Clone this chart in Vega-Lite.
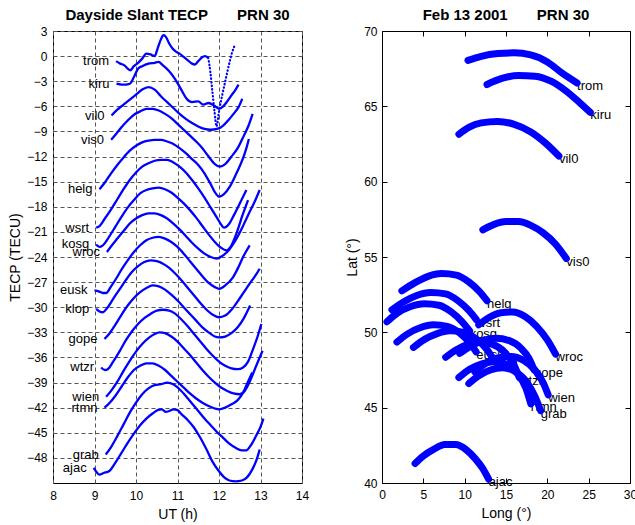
{
"$schema": "https://vega.github.io/schema/vega-lite/v6.json",
"padding": {"left": 8, "top": 7, "right": 5, "bottom": 5},
"spacing": 35,
"config": {
 "font": "Liberation Sans",
 "view": {"stroke": "#000", "strokeWidth": 1},
 "axis": {"labelFont": "Liberation Sans", "labelFontSize": 12, "labelColor": "#000", "titleFont": "Liberation Sans", "titleFontSize": 14, "titleFontWeight": "normal", "titleColor": "#000", "domain": false, "tickColor": "#000", "gridColor": "#555", "gridDash": [4, 3], "gridOpacity": 1, "labelFlush": false, "labelOverlap": false},
 "title": {"font": "Liberation Sans", "fontSize": 15, "fontWeight": "bold", "color": "#000", "offset": 2}
},
"datasets": {
 "tec": [
  {"st":"trom","ut":9.52,"tec":-0.6},{"st":"trom","ut":9.62,"tec":-0.9},{"st":"trom","ut":9.72,"tec":-1.1},{"st":"trom","ut":9.8,"tec":-1.5},{"st":"trom","ut":9.86,"tec":-1.7},{"st":"trom","ut":9.95,"tec":-1.2},{"st":"trom","ut":10.05,"tec":-0.8},{"st":"trom","ut":10.15,"tec":-0.3},{"st":"trom","ut":10.25,"tec":0.3},{"st":"trom","ut":10.35,"tec":0.2},{"st":"trom","ut":10.45,"tec":0.0},{"st":"trom","ut":10.52,"tec":0.9},{"st":"trom","ut":10.6,"tec":2.0},{"st":"trom","ut":10.66,"tec":2.5},{"st":"trom","ut":10.72,"tec":2.3},{"st":"trom","ut":10.8,"tec":1.5},{"st":"trom","ut":10.88,"tec":0.9},{"st":"trom","ut":10.97,"tec":0.5},{"st":"trom","ut":11.05,"tec":0.3},{"st":"trom","ut":11.15,"tec":-0.1},{"st":"trom","ut":11.25,"tec":-0.5},{"st":"trom","ut":11.35,"tec":-0.9},{"st":"trom","ut":11.42,"tec":-1.0},{"st":"trom","ut":11.5,"tec":-0.6},{"st":"trom","ut":11.58,"tec":-0.2},{"st":"trom","ut":11.66,"tec":0.0},{"st":"trom","ut":11.74,"tec":-0.2},
  {"st":"kiru","ut":9.53,"tec":-3.3},{"st":"kiru","ut":9.65,"tec":-3.4},{"st":"kiru","ut":9.75,"tec":-3.4},{"st":"kiru","ut":9.85,"tec":-3.3},{"st":"kiru","ut":9.95,"tec":-2.5},{"st":"kiru","ut":10.05,"tec":-1.5},{"st":"kiru","ut":10.15,"tec":-1.2},{"st":"kiru","ut":10.3,"tec":-0.9},{"st":"kiru","ut":10.45,"tec":-0.8},{"st":"kiru","ut":10.54,"tec":-0.7},{"st":"kiru","ut":10.65,"tec":-1.1},{"st":"kiru","ut":10.8,"tec":-1.8},{"st":"kiru","ut":10.95,"tec":-2.8},{"st":"kiru","ut":11.1,"tec":-4.1},{"st":"kiru","ut":11.22,"tec":-5.1},{"st":"kiru","ut":11.35,"tec":-5.5},{"st":"kiru","ut":11.5,"tec":-5.4},{"st":"kiru","ut":11.62,"tec":-5.8},{"st":"kiru","ut":11.75,"tec":-5.6},{"st":"kiru","ut":11.88,"tec":-5.9},{"st":"kiru","ut":12.0,"tec":-6.3},{"st":"kiru","ut":12.1,"tec":-6.0},{"st":"kiru","ut":12.2,"tec":-5.4},{"st":"kiru","ut":12.3,"tec":-4.7},{"st":"kiru","ut":12.4,"tec":-4.0},{"st":"kiru","ut":12.47,"tec":-3.4},
  {"st":"vil0","ut":9.41,"tec":-7.1},{"st":"vil0","ut":9.55,"tec":-6.4},{"st":"vil0","ut":9.7,"tec":-5.8},{"st":"vil0","ut":9.85,"tec":-5.2},{"st":"vil0","ut":10.0,"tec":-4.6},{"st":"vil0","ut":10.15,"tec":-4.0},{"st":"vil0","ut":10.3,"tec":-3.7},{"st":"vil0","ut":10.45,"tec":-4.0},{"st":"vil0","ut":10.6,"tec":-4.8},{"st":"vil0","ut":10.75,"tec":-5.5},{"st":"vil0","ut":10.9,"tec":-6.2},{"st":"vil0","ut":11.05,"tec":-6.9},{"st":"vil0","ut":11.2,"tec":-7.5},{"st":"vil0","ut":11.35,"tec":-8.0},{"st":"vil0","ut":11.5,"tec":-8.4},{"st":"vil0","ut":11.65,"tec":-8.7},{"st":"vil0","ut":11.8,"tec":-8.8},{"st":"vil0","ut":11.95,"tec":-8.7},{"st":"vil0","ut":12.05,"tec":-8.5},{"st":"vil0","ut":12.2,"tec":-7.8},{"st":"vil0","ut":12.35,"tec":-6.9},{"st":"vil0","ut":12.47,"tec":-6.1},{"st":"vil0","ut":12.56,"tec":-5.1},
  {"st":"vis0","ut":9.4,"tec":-10.0},{"st":"vis0","ut":9.52,"tec":-9.3},{"st":"vis0","ut":9.65,"tec":-8.5},{"st":"vis0","ut":9.8,"tec":-7.7},{"st":"vis0","ut":9.95,"tec":-7.0},{"st":"vis0","ut":10.1,"tec":-6.6},{"st":"vis0","ut":10.25,"tec":-6.3},{"st":"vis0","ut":10.4,"tec":-6.3},{"st":"vis0","ut":10.55,"tec":-6.5},{"st":"vis0","ut":10.7,"tec":-6.9},{"st":"vis0","ut":10.85,"tec":-7.4},{"st":"vis0","ut":11.0,"tec":-8.1},{"st":"vis0","ut":11.15,"tec":-8.8},{"st":"vis0","ut":11.3,"tec":-9.5},{"st":"vis0","ut":11.45,"tec":-10.2},{"st":"vis0","ut":11.6,"tec":-11.0},{"st":"vis0","ut":11.75,"tec":-12.0},{"st":"vis0","ut":11.9,"tec":-12.9},{"st":"vis0","ut":12.02,"tec":-13.2},{"st":"vis0","ut":12.15,"tec":-12.9},{"st":"vis0","ut":12.3,"tec":-12.0},{"st":"vis0","ut":12.45,"tec":-11.0},{"st":"vis0","ut":12.6,"tec":-9.5},{"st":"vis0","ut":12.72,"tec":-8.2},{"st":"vis0","ut":12.81,"tec":-6.9},
  {"st":"helg","ut":9.12,"tec":-15.9},{"st":"helg","ut":9.25,"tec":-15.1},{"st":"helg","ut":9.4,"tec":-14.0},{"st":"helg","ut":9.55,"tec":-13.0},{"st":"helg","ut":9.7,"tec":-12.1},{"st":"helg","ut":9.85,"tec":-11.3},{"st":"helg","ut":10.0,"tec":-10.7},{"st":"helg","ut":10.15,"tec":-10.3},{"st":"helg","ut":10.3,"tec":-10.1},{"st":"helg","ut":10.45,"tec":-10.0},{"st":"helg","ut":10.6,"tec":-10.0},{"st":"helg","ut":10.75,"tec":-10.2},{"st":"helg","ut":10.9,"tec":-10.5},{"st":"helg","ut":11.05,"tec":-11.0},{"st":"helg","ut":11.2,"tec":-11.6},{"st":"helg","ut":11.35,"tec":-12.3},{"st":"helg","ut":11.5,"tec":-13.0},{"st":"helg","ut":11.65,"tec":-14.0},{"st":"helg","ut":11.8,"tec":-15.3},{"st":"helg","ut":11.92,"tec":-16.4},{"st":"helg","ut":12.0,"tec":-16.8},{"st":"helg","ut":12.12,"tec":-16.5},{"st":"helg","ut":12.26,"tec":-15.6},{"st":"helg","ut":12.42,"tec":-14.0},{"st":"helg","ut":12.58,"tec":-12.2},{"st":"helg","ut":12.66,"tec":-11.0},{"st":"helg","ut":12.72,"tec":-9.9},
  {"st":"wsrt","ut":9.04,"tec":-20.5},{"st":"wsrt","ut":9.12,"tec":-20.3},{"st":"wsrt","ut":9.25,"tec":-19.4},{"st":"wsrt","ut":9.4,"tec":-18.3},{"st":"wsrt","ut":9.55,"tec":-17.1},{"st":"wsrt","ut":9.7,"tec":-15.9},{"st":"wsrt","ut":9.85,"tec":-14.8},{"st":"wsrt","ut":10.0,"tec":-13.9},{"st":"wsrt","ut":10.15,"tec":-13.2},{"st":"wsrt","ut":10.3,"tec":-12.8},{"st":"wsrt","ut":10.45,"tec":-12.5},{"st":"wsrt","ut":10.6,"tec":-12.4},{"st":"wsrt","ut":10.75,"tec":-12.4},{"st":"wsrt","ut":10.9,"tec":-12.7},{"st":"wsrt","ut":11.05,"tec":-13.2},{"st":"wsrt","ut":11.2,"tec":-13.9},{"st":"wsrt","ut":11.35,"tec":-14.8},{"st":"wsrt","ut":11.5,"tec":-15.8},{"st":"wsrt","ut":11.65,"tec":-16.9},{"st":"wsrt","ut":11.8,"tec":-18.1},{"st":"wsrt","ut":11.95,"tec":-19.3},{"st":"wsrt","ut":12.05,"tec":-20.1},{"st":"wsrt","ut":12.12,"tec":-20.5},{"st":"wsrt","ut":12.25,"tec":-20.0},{"st":"wsrt","ut":12.36,"tec":-19.0},{"st":"wsrt","ut":12.5,"tec":-17.6},{"st":"wsrt","ut":12.66,"tec":-16.0},
  {"st":"kosg","ut":9.04,"tec":-22.5},{"st":"kosg","ut":9.12,"tec":-22.8},{"st":"kosg","ut":9.2,"tec":-22.6},{"st":"kosg","ut":9.35,"tec":-21.6},{"st":"kosg","ut":9.5,"tec":-20.4},{"st":"kosg","ut":9.65,"tec":-19.2},{"st":"kosg","ut":9.8,"tec":-18.1},{"st":"kosg","ut":9.95,"tec":-17.2},{"st":"kosg","ut":10.1,"tec":-16.4},{"st":"kosg","ut":10.25,"tec":-16.0},{"st":"kosg","ut":10.4,"tec":-15.8},{"st":"kosg","ut":10.55,"tec":-15.7},{"st":"kosg","ut":10.7,"tec":-15.9},{"st":"kosg","ut":10.85,"tec":-16.3},{"st":"kosg","ut":11.0,"tec":-16.9},{"st":"kosg","ut":11.15,"tec":-17.6},{"st":"kosg","ut":11.3,"tec":-18.4},{"st":"kosg","ut":11.45,"tec":-19.3},{"st":"kosg","ut":11.6,"tec":-20.3},{"st":"kosg","ut":11.75,"tec":-21.3},{"st":"kosg","ut":11.9,"tec":-22.2},{"st":"kosg","ut":12.05,"tec":-22.9},{"st":"kosg","ut":12.18,"tec":-23.2},{"st":"kosg","ut":12.3,"tec":-22.6},{"st":"kosg","ut":12.42,"tec":-21.2},{"st":"kosg","ut":12.56,"tec":-19.1},{"st":"kosg","ut":12.7,"tec":-17.2},
  {"st":"wroc","ut":9.3,"tec":-23.4},{"st":"wroc","ut":9.42,"tec":-22.6},{"st":"wroc","ut":9.55,"tec":-21.8},{"st":"wroc","ut":9.7,"tec":-20.9},{"st":"wroc","ut":9.85,"tec":-20.0},{"st":"wroc","ut":10.0,"tec":-19.4},{"st":"wroc","ut":10.15,"tec":-19.0},{"st":"wroc","ut":10.3,"tec":-18.8},{"st":"wroc","ut":10.45,"tec":-18.8},{"st":"wroc","ut":10.6,"tec":-19.0},{"st":"wroc","ut":10.75,"tec":-19.4},{"st":"wroc","ut":10.9,"tec":-20.0},{"st":"wroc","ut":11.05,"tec":-20.7},{"st":"wroc","ut":11.2,"tec":-21.5},{"st":"wroc","ut":11.35,"tec":-22.3},{"st":"wroc","ut":11.5,"tec":-23.0},{"st":"wroc","ut":11.65,"tec":-23.6},{"st":"wroc","ut":11.8,"tec":-24.0},{"st":"wroc","ut":11.95,"tec":-24.2},{"st":"wroc","ut":12.1,"tec":-23.8},{"st":"wroc","ut":12.25,"tec":-23.1},{"st":"wroc","ut":12.4,"tec":-22.0},{"st":"wroc","ut":12.55,"tec":-20.6},{"st":"wroc","ut":12.7,"tec":-19.0},{"st":"wroc","ut":12.85,"tec":-17.5},{"st":"wroc","ut":12.98,"tec":-16.0},
  {"st":"eusk","ut":9.0,"tec":-28.0},{"st":"eusk","ut":9.1,"tec":-28.1},{"st":"eusk","ut":9.2,"tec":-28.3},{"st":"eusk","ut":9.28,"tec":-28.3},{"st":"eusk","ut":9.4,"tec":-27.5},{"st":"eusk","ut":9.52,"tec":-26.6},{"st":"eusk","ut":9.65,"tec":-25.5},{"st":"eusk","ut":9.8,"tec":-24.4},{"st":"eusk","ut":9.95,"tec":-23.4},{"st":"eusk","ut":10.1,"tec":-22.6},{"st":"eusk","ut":10.25,"tec":-22.0},{"st":"eusk","ut":10.4,"tec":-21.7},{"st":"eusk","ut":10.55,"tec":-21.6},{"st":"eusk","ut":10.7,"tec":-21.8},{"st":"eusk","ut":10.85,"tec":-22.2},{"st":"eusk","ut":11.0,"tec":-22.8},{"st":"eusk","ut":11.15,"tec":-23.6},{"st":"eusk","ut":11.3,"tec":-24.5},{"st":"eusk","ut":11.45,"tec":-25.4},{"st":"eusk","ut":11.6,"tec":-26.3},{"st":"eusk","ut":11.75,"tec":-27.1},{"st":"eusk","ut":11.9,"tec":-27.6},{"st":"eusk","ut":12.0,"tec":-27.8},{"st":"eusk","ut":12.15,"tec":-27.4},{"st":"eusk","ut":12.34,"tec":-26.4},{"st":"eusk","ut":12.46,"tec":-25.3},{"st":"eusk","ut":12.58,"tec":-24.0},{"st":"eusk","ut":12.74,"tec":-22.6},
  {"st":"klop","ut":9.04,"tec":-30.2},{"st":"klop","ut":9.12,"tec":-30.5},{"st":"klop","ut":9.2,"tec":-30.6},{"st":"klop","ut":9.32,"tec":-30.0},{"st":"klop","ut":9.45,"tec":-29.0},{"st":"klop","ut":9.6,"tec":-27.9},{"st":"klop","ut":9.75,"tec":-26.8},{"st":"klop","ut":9.9,"tec":-25.8},{"st":"klop","ut":10.05,"tec":-25.1},{"st":"klop","ut":10.2,"tec":-24.6},{"st":"klop","ut":10.35,"tec":-24.4},{"st":"klop","ut":10.5,"tec":-24.5},{"st":"klop","ut":10.65,"tec":-24.8},{"st":"klop","ut":10.8,"tec":-25.3},{"st":"klop","ut":10.95,"tec":-26.0},{"st":"klop","ut":11.1,"tec":-26.8},{"st":"klop","ut":11.25,"tec":-27.7},{"st":"klop","ut":11.4,"tec":-28.6},{"st":"klop","ut":11.55,"tec":-29.5},{"st":"klop","ut":11.7,"tec":-30.3},{"st":"klop","ut":11.85,"tec":-30.9},{"st":"klop","ut":12.0,"tec":-31.2},{"st":"klop","ut":12.15,"tec":-31.0},{"st":"klop","ut":12.3,"tec":-30.3},{"st":"klop","ut":12.45,"tec":-29.3},{"st":"klop","ut":12.6,"tec":-28.2},{"st":"klop","ut":12.75,"tec":-27.1},{"st":"klop","ut":12.88,"tec":-26.2},{"st":"klop","ut":12.98,"tec":-25.4},
  {"st":"gope","ut":9.24,"tec":-33.8},{"st":"gope","ut":9.35,"tec":-33.2},{"st":"gope","ut":9.5,"tec":-32.1},{"st":"gope","ut":9.65,"tec":-30.9},{"st":"gope","ut":9.8,"tec":-29.8},{"st":"gope","ut":9.95,"tec":-28.9},{"st":"gope","ut":10.1,"tec":-28.2},{"st":"gope","ut":10.25,"tec":-27.7},{"st":"gope","ut":10.4,"tec":-27.4},{"st":"gope","ut":10.55,"tec":-27.5},{"st":"gope","ut":10.7,"tec":-27.9},{"st":"gope","ut":10.85,"tec":-28.5},{"st":"gope","ut":11.0,"tec":-29.2},{"st":"gope","ut":11.15,"tec":-30.0},{"st":"gope","ut":11.3,"tec":-30.8},{"st":"gope","ut":11.45,"tec":-31.6},{"st":"gope","ut":11.6,"tec":-32.4},{"st":"gope","ut":11.75,"tec":-33.0},{"st":"gope","ut":11.9,"tec":-33.5},{"st":"gope","ut":12.0,"tec":-33.6},{"st":"gope","ut":12.15,"tec":-33.5},{"st":"gope","ut":12.3,"tec":-33.1},{"st":"gope","ut":12.45,"tec":-32.4},{"st":"gope","ut":12.6,"tec":-31.3},{"st":"gope","ut":12.75,"tec":-29.8},
  {"st":"wtzr","ut":9.16,"tec":-37.2},{"st":"wtzr","ut":9.25,"tec":-37.5},{"st":"wtzr","ut":9.32,"tec":-37.4},{"st":"wtzr","ut":9.45,"tec":-36.5},{"st":"wtzr","ut":9.6,"tec":-35.3},{"st":"wtzr","ut":9.75,"tec":-34.0},{"st":"wtzr","ut":9.9,"tec":-32.9},{"st":"wtzr","ut":10.05,"tec":-32.0},{"st":"wtzr","ut":10.2,"tec":-31.3},{"st":"wtzr","ut":10.35,"tec":-30.8},{"st":"wtzr","ut":10.5,"tec":-30.4},{"st":"wtzr","ut":10.65,"tec":-30.3},{"st":"wtzr","ut":10.8,"tec":-30.4},{"st":"wtzr","ut":10.95,"tec":-30.8},{"st":"wtzr","ut":11.1,"tec":-31.5},{"st":"wtzr","ut":11.25,"tec":-32.3},{"st":"wtzr","ut":11.4,"tec":-33.2},{"st":"wtzr","ut":11.55,"tec":-34.1},{"st":"wtzr","ut":11.7,"tec":-35.0},{"st":"wtzr","ut":11.85,"tec":-35.8},{"st":"wtzr","ut":12.0,"tec":-36.5},{"st":"wtzr","ut":12.15,"tec":-37.0},{"st":"wtzr","ut":12.3,"tec":-37.3},{"st":"wtzr","ut":12.45,"tec":-37.4},{"st":"wtzr","ut":12.58,"tec":-37.2},{"st":"wtzr","ut":12.7,"tec":-36.5},{"st":"wtzr","ut":12.82,"tec":-35.0},{"st":"wtzr","ut":12.93,"tec":-33.5},{"st":"wtzr","ut":13.02,"tec":-32.0},
  {"st":"wien","ut":9.28,"tec":-40.7},{"st":"wien","ut":9.4,"tec":-40.0},{"st":"wien","ut":9.55,"tec":-38.9},{"st":"wien","ut":9.7,"tec":-37.6},{"st":"wien","ut":9.85,"tec":-36.4},{"st":"wien","ut":10.0,"tec":-35.3},{"st":"wien","ut":10.15,"tec":-34.4},{"st":"wien","ut":10.3,"tec":-33.7},{"st":"wien","ut":10.45,"tec":-33.2},{"st":"wien","ut":10.57,"tec":-33.0},{"st":"wien","ut":10.7,"tec":-33.1},{"st":"wien","ut":10.85,"tec":-33.5},{"st":"wien","ut":11.0,"tec":-34.1},{"st":"wien","ut":11.15,"tec":-34.9},{"st":"wien","ut":11.3,"tec":-35.7},{"st":"wien","ut":11.45,"tec":-36.6},{"st":"wien","ut":11.6,"tec":-37.5},{"st":"wien","ut":11.75,"tec":-38.3},{"st":"wien","ut":11.9,"tec":-39.0},{"st":"wien","ut":12.05,"tec":-39.6},{"st":"wien","ut":12.2,"tec":-40.0},{"st":"wien","ut":12.35,"tec":-40.3},{"st":"wien","ut":12.5,"tec":-40.4},{"st":"wien","ut":12.62,"tec":-40.0},{"st":"wien","ut":12.75,"tec":-38.8},{"st":"wien","ut":12.88,"tec":-37.2},{"st":"wien","ut":13.05,"tec":-35.2},
  {"st":"rtmn","ut":9.24,"tec":-42.0},{"st":"rtmn","ut":9.35,"tec":-41.5},{"st":"rtmn","ut":9.5,"tec":-40.6},{"st":"rtmn","ut":9.65,"tec":-39.5},{"st":"rtmn","ut":9.8,"tec":-38.4},{"st":"rtmn","ut":9.95,"tec":-37.5},{"st":"rtmn","ut":10.1,"tec":-37.0},{"st":"rtmn","ut":10.25,"tec":-36.7},{"st":"rtmn","ut":10.4,"tec":-36.7},{"st":"rtmn","ut":10.55,"tec":-37.0},{"st":"rtmn","ut":10.7,"tec":-37.5},{"st":"rtmn","ut":10.85,"tec":-38.2},{"st":"rtmn","ut":11.0,"tec":-38.9},{"st":"rtmn","ut":11.15,"tec":-39.6},{"st":"rtmn","ut":11.3,"tec":-40.3},{"st":"rtmn","ut":11.45,"tec":-40.9},{"st":"rtmn","ut":11.6,"tec":-41.4},{"st":"rtmn","ut":11.75,"tec":-41.8},{"st":"rtmn","ut":11.9,"tec":-42.1},{"st":"rtmn","ut":12.0,"tec":-42.2},{"st":"rtmn","ut":12.15,"tec":-42.0},{"st":"rtmn","ut":12.3,"tec":-41.6},{"st":"rtmn","ut":12.45,"tec":-41.1},{"st":"rtmn","ut":12.58,"tec":-40.2},{"st":"rtmn","ut":12.68,"tec":-39.1},{"st":"rtmn","ut":12.8,"tec":-37.8},
  {"st":"grab","ut":9.27,"tec":-47.6},{"st":"grab","ut":9.4,"tec":-46.7},{"st":"grab","ut":9.55,"tec":-45.4},{"st":"grab","ut":9.7,"tec":-44.0},{"st":"grab","ut":9.85,"tec":-42.6},{"st":"grab","ut":10.0,"tec":-41.4},{"st":"grab","ut":10.15,"tec":-40.4},{"st":"grab","ut":10.3,"tec":-39.7},{"st":"grab","ut":10.45,"tec":-39.3},{"st":"grab","ut":10.6,"tec":-39.2},{"st":"grab","ut":10.75,"tec":-39.0},{"st":"grab","ut":10.9,"tec":-39.2},{"st":"grab","ut":11.05,"tec":-39.8},{"st":"grab","ut":11.2,"tec":-40.6},{"st":"grab","ut":11.35,"tec":-41.5},{"st":"grab","ut":11.5,"tec":-42.4},{"st":"grab","ut":11.65,"tec":-43.3},{"st":"grab","ut":11.8,"tec":-44.1},{"st":"grab","ut":11.95,"tec":-44.9},{"st":"grab","ut":12.1,"tec":-45.6},{"st":"grab","ut":12.25,"tec":-46.3},{"st":"grab","ut":12.4,"tec":-46.8},{"st":"grab","ut":12.55,"tec":-47.1},{"st":"grab","ut":12.65,"tec":-47.1},{"st":"grab","ut":12.78,"tec":-46.4},{"st":"grab","ut":12.9,"tec":-45.3},{"st":"grab","ut":13.0,"tec":-44.3},{"st":"grab","ut":13.07,"tec":-43.3},
  {"st":"ajac","ut":8.98,"tec":-49.2},{"st":"ajac","ut":9.05,"tec":-49.7},{"st":"ajac","ut":9.12,"tec":-50.0},{"st":"ajac","ut":9.22,"tec":-49.8},{"st":"ajac","ut":9.35,"tec":-49.6},{"st":"ajac","ut":9.5,"tec":-48.6},{"st":"ajac","ut":9.65,"tec":-47.4},{"st":"ajac","ut":9.8,"tec":-46.2},{"st":"ajac","ut":9.95,"tec":-45.1},{"st":"ajac","ut":10.1,"tec":-44.1},{"st":"ajac","ut":10.25,"tec":-43.3},{"st":"ajac","ut":10.4,"tec":-42.7},{"st":"ajac","ut":10.52,"tec":-42.3},{"st":"ajac","ut":10.62,"tec":-42.2},{"st":"ajac","ut":10.72,"tec":-42.5},{"st":"ajac","ut":10.8,"tec":-42.4},{"st":"ajac","ut":10.9,"tec":-42.2},{"st":"ajac","ut":11.0,"tec":-42.3},{"st":"ajac","ut":11.1,"tec":-42.8},{"st":"ajac","ut":11.25,"tec":-43.5},{"st":"ajac","ut":11.4,"tec":-44.4},{"st":"ajac","ut":11.55,"tec":-45.6},{"st":"ajac","ut":11.7,"tec":-47.0},{"st":"ajac","ut":11.85,"tec":-48.5},{"st":"ajac","ut":12.0,"tec":-49.6},{"st":"ajac","ut":12.12,"tec":-50.3},{"st":"ajac","ut":12.25,"tec":-50.7},{"st":"ajac","ut":12.4,"tec":-50.8},{"st":"ajac","ut":12.55,"tec":-50.7},{"st":"ajac","ut":12.68,"tec":-50.3},{"st":"ajac","ut":12.8,"tec":-49.4},{"st":"ajac","ut":12.9,"tec":-48.3},{"st":"ajac","ut":12.98,"tec":-47.0}
 ],
 "tecdot": [
  {"st":"trom","ut":11.74,"tec":-0.2},{"st":"trom","ut":11.79,"tec":-1.8},{"st":"trom","ut":11.84,"tec":-4.2},{"st":"trom","ut":11.89,"tec":-6.5},{"st":"trom","ut":11.94,"tec":-8.4},{"st":"trom","ut":12.0,"tec":-6.6},{"st":"trom","ut":12.08,"tec":-4.6},{"st":"trom","ut":12.16,"tec":-2.8},{"st":"trom","ut":12.25,"tec":-0.8},{"st":"trom","ut":12.32,"tec":0.5},{"st":"trom","ut":12.39,"tec":1.4}
 ],
 "ipp": [
  {"st":"trom","lon":10.4,"lat":68.05},{"st":"trom","lon":12.0,"lat":68.32},{"st":"trom","lon":14.0,"lat":68.5},{"st":"trom","lon":16.0,"lat":68.55},{"st":"trom","lon":18.0,"lat":68.42},{"st":"trom","lon":20.0,"lat":67.95},{"st":"trom","lon":21.8,"lat":67.2},{"st":"trom","lon":23.6,"lat":66.55},
  {"st":"kiru","lon":12.7,"lat":66.45},{"st":"kiru","lon":14.5,"lat":66.85},{"st":"kiru","lon":16.5,"lat":67.05},{"st":"kiru","lon":18.5,"lat":67.0},{"st":"kiru","lon":20.5,"lat":66.65},{"st":"kiru","lon":22.3,"lat":66.0},{"st":"kiru","lon":23.9,"lat":65.25},{"st":"kiru","lon":25.2,"lat":64.6},
  {"st":"vil0","lon":9.3,"lat":63.15},{"st":"vil0","lon":10.5,"lat":63.6},{"st":"vil0","lon":12.0,"lat":63.9},{"st":"vil0","lon":14.0,"lat":64.0},{"st":"vil0","lon":16.0,"lat":63.8},{"st":"vil0","lon":18.0,"lat":63.3},{"st":"vil0","lon":19.8,"lat":62.55},{"st":"vil0","lon":21.4,"lat":61.7},
  {"st":"vis0","lon":12.2,"lat":56.8},{"st":"vis0","lon":13.5,"lat":57.15},{"st":"vis0","lon":15.0,"lat":57.35},{"st":"vis0","lon":16.5,"lat":57.35},{"st":"vis0","lon":18.0,"lat":57.1},{"st":"vis0","lon":19.5,"lat":56.6},{"st":"vis0","lon":21.0,"lat":55.85},{"st":"vis0","lon":22.3,"lat":54.9},
  {"st":"helg","lon":2.4,"lat":52.75},{"st":"helg","lon":4.0,"lat":53.3},{"st":"helg","lon":5.5,"lat":53.7},{"st":"helg","lon":7.2,"lat":53.9},{"st":"helg","lon":9.0,"lat":53.8},{"st":"helg","lon":10.5,"lat":53.35},{"st":"helg","lon":11.8,"lat":52.7},{"st":"helg","lon":12.7,"lat":52.1},
  {"st":"wsrt","lon":1.2,"lat":51.5},{"st":"wsrt","lon":2.7,"lat":52.05},{"st":"wsrt","lon":4.2,"lat":52.45},{"st":"wsrt","lon":5.9,"lat":52.65},{"st":"wsrt","lon":7.7,"lat":52.55},{"st":"wsrt","lon":9.2,"lat":52.1},{"st":"wsrt","lon":10.5,"lat":51.45},{"st":"wsrt","lon":11.4,"lat":50.85},
  {"st":"kosg","lon":0.6,"lat":50.7},{"st":"kosg","lon":1.9,"lat":51.3},{"st":"kosg","lon":3.4,"lat":51.7},{"st":"kosg","lon":5.1,"lat":51.9},{"st":"kosg","lon":6.9,"lat":51.8},{"st":"kosg","lon":8.4,"lat":51.35},{"st":"kosg","lon":9.7,"lat":50.7},{"st":"kosg","lon":10.6,"lat":50.1},
  {"st":"wroc","lon":11.7,"lat":50.5},{"st":"wroc","lon":13.0,"lat":51.0},{"st":"wroc","lon":14.4,"lat":51.3},{"st":"wroc","lon":15.8,"lat":51.35},{"st":"wroc","lon":17.3,"lat":51.05},{"st":"wroc","lon":18.7,"lat":50.4},{"st":"wroc","lon":20.0,"lat":49.5},{"st":"wroc","lon":21.0,"lat":48.55},
  {"st":"eusk","lon":1.8,"lat":49.35},{"st":"eusk","lon":3.1,"lat":49.9},{"st":"eusk","lon":4.6,"lat":50.3},{"st":"eusk","lon":6.2,"lat":50.5},{"st":"eusk","lon":7.9,"lat":50.4},{"st":"eusk","lon":9.4,"lat":49.95},{"st":"eusk","lon":10.6,"lat":49.3},{"st":"eusk","lon":11.4,"lat":48.7},
  {"st":"klop","lon":3.8,"lat":49.0},{"st":"klop","lon":5.2,"lat":49.55},{"st":"klop","lon":6.6,"lat":49.9},{"st":"klop","lon":8.2,"lat":50.1},{"st":"klop","lon":9.9,"lat":50.0},{"st":"klop","lon":11.4,"lat":49.55},{"st":"klop","lon":12.7,"lat":48.85},{"st":"klop","lon":13.5,"lat":48.2},
  {"st":"gope","lon":9.4,"lat":48.6},{"st":"gope","lon":10.8,"lat":49.1},{"st":"gope","lon":12.2,"lat":49.45},{"st":"gope","lon":13.8,"lat":49.6},{"st":"gope","lon":15.4,"lat":49.45},{"st":"gope","lon":16.8,"lat":48.95},{"st":"gope","lon":17.8,"lat":48.25},{"st":"gope","lon":18.4,"lat":47.5},
  {"st":"wtzr","lon":7.7,"lat":48.35},{"st":"wtzr","lon":9.0,"lat":48.85},{"st":"wtzr","lon":10.4,"lat":49.2},{"st":"wtzr","lon":11.9,"lat":49.35},{"st":"wtzr","lon":13.4,"lat":49.2},{"st":"wtzr","lon":14.8,"lat":48.7},{"st":"wtzr","lon":15.9,"lat":47.9},{"st":"wtzr","lon":16.6,"lat":47.0},
  {"st":"wien","lon":11.2,"lat":47.4},{"st":"wien","lon":12.6,"lat":47.95},{"st":"wien","lon":14.0,"lat":48.3},{"st":"wien","lon":15.6,"lat":48.4},{"st":"wien","lon":17.1,"lat":48.15},{"st":"wien","lon":18.5,"lat":47.5},{"st":"wien","lon":19.5,"lat":46.65},{"st":"wien","lon":20.1,"lat":45.85},
  {"st":"rtmn","lon":9.3,"lat":47.0},{"st":"rtmn","lon":10.6,"lat":47.55},{"st":"rtmn","lon":12.0,"lat":47.9},{"st":"rtmn","lon":13.6,"lat":48.05},{"st":"rtmn","lon":15.1,"lat":47.85},{"st":"rtmn","lon":16.5,"lat":47.2},{"st":"rtmn","lon":17.4,"lat":46.3},{"st":"rtmn","lon":18.0,"lat":45.25},
  {"st":"grab","lon":10.5,"lat":46.6},{"st":"grab","lon":11.8,"lat":47.15},{"st":"grab","lon":13.1,"lat":47.5},{"st":"grab","lon":14.6,"lat":47.65},{"st":"grab","lon":16.1,"lat":47.4},{"st":"grab","lon":17.5,"lat":46.7},{"st":"grab","lon":18.5,"lat":45.75},{"st":"grab","lon":19.2,"lat":44.8},
  {"st":"ajac","lon":4.0,"lat":41.3},{"st":"ajac","lon":5.0,"lat":41.8},{"st":"ajac","lon":6.3,"lat":42.25},{"st":"ajac","lon":7.6,"lat":42.55},{"st":"ajac","lon":8.9,"lat":42.55},{"st":"ajac","lon":10.2,"lat":42.2},{"st":"ajac","lon":11.3,"lat":41.6},{"st":"ajac","lon":12.2,"lat":40.95},{"st":"ajac","lon":12.9,"lat":40.25}
 ]
},
"hconcat": [
 {
  "width": 249, "height": 452,
  "title": {"text": "Dayside Slant TECP\u00a0\u00a0\u00a0\u00a0\u00a0\u00a0 PRN 30"},
  "resolve": {"axis": {"x": "independent", "y": "independent"}},
  "layer": [
   {
    "data": {"name": "tec"},
    "mark": {"type": "line", "color": "#0000ff", "strokeWidth": 2.3, "interpolate": "monotone"},
    "encoding": {
     "x": {"field": "ut", "type": "quantitative", "scale": {"domain": [8, 14], "nice": false, "zero": false},
           "axis": {"title": "UT (h)", "values": [8, 9, 10, 11, 12, 13, 14], "grid": true, "ticks": false, "labelPadding": 7, "titlePadding": 6, "labelOverlap": false, "labelFlush": false}},
     "y": {"field": "tec", "type": "quantitative", "scale": {"domain": [-51, 3], "nice": false, "zero": false},
           "axis": {"title": "TECP (TECU)", "values": [-48, -45, -42, -39, -36, -33, -30, -27, -24, -21, -18, -15, -12, -9, -6, -3, 0, 3], "grid": true, "ticks": false, "labelPadding": 6, "titlePadding": 4, "labelOverlap": false, "labelFlush": false, "labelBound": false}},
     "detail": {"field": "st"}
    }
   },
   {
    "data": {"name": "tecdot"},
    "mark": {"type": "line", "color": "#0000ff", "strokeWidth": 2.2, "strokeDash": [0.5, 3], "strokeCap": "round", "interpolate": "monotone"},
    "encoding": {
     "x": {"field": "ut", "type": "quantitative", "axis": null},
     "y": {"field": "tec", "type": "quantitative", "axis": null}
    }
   },
   {
    "data": {"name": "tec"},
    "transform": [{"aggregate": [{"op": "argmin", "field": "ut", "as": "first"}], "groupby": ["st"]}],
    "mark": {"type": "text", "align": "right", "baseline": "middle", "dx": -7, "fontSize": 13, "font": "Liberation Sans", "color": "#000"},
    "encoding": {
     "x": {"field": "first.ut", "type": "quantitative", "axis": null},
     "y": {"field": "first.tec", "type": "quantitative", "axis": null},
     "text": {"field": "st"}
    }
   }
  ]
 },
 {
  "width": 248, "height": 452,
  "title": {"text": "Feb 13 2001\u00a0\u00a0\u00a0\u00a0\u00a0\u00a0 PRN 30"},
  "layer": [
   {
    "data": {"name": "ipp"},
    "transform": [{"aggregate": [{"op": "argmax", "field": "lon", "as": "last"}], "groupby": ["st"]}],
    "mark": {"type": "text", "align": "left", "baseline": "middle", "dx": 0, "dy": 3, "fontSize": 13, "font": "Liberation Sans", "color": "#000"},
    "encoding": {
     "x": {"field": "last.lon", "type": "quantitative", "axis": {"orient": "top", "labels": false, "title": null, "grid": false, "tickSize": -5, "values": [0, 5, 10, 15, 20, 25, 30]}},
     "y": {"field": "last.lat", "type": "quantitative", "axis": {"orient": "right", "labels": false, "title": null, "grid": false, "tickSize": -5, "values": [40, 45, 50, 55, 60, 65, 70]}},
     "text": {"field": "st"}
    }
   },
   {
    "data": {"name": "ipp"},
    "mark": {"type": "line", "color": "#0000ff", "strokeWidth": 7, "strokeCap": "round", "strokeJoin": "round", "interpolate": "monotone"},
    "encoding": {
     "x": {"field": "lon", "type": "quantitative", "scale": {"domain": [0, 30], "nice": false, "zero": false},
           "axis": {"orient": "bottom", "title": "Long (°)", "grid": false, "values": [0, 5, 10, 15, 20, 25, 30], "tickSize": -5, "labelPadding": 11, "titlePadding": 6, "labelOverlap": false, "labelFlush": false}},
     "y": {"field": "lat", "type": "quantitative", "scale": {"domain": [40, 70], "nice": false, "zero": false},
           "axis": {"orient": "left", "title": "Lat (°)", "grid": false, "values": [40, 45, 50, 55, 60, 65, 70], "tickSize": -5, "labelPadding": 10, "titlePadding": 4, "labelOverlap": false}},
     "detail": {"field": "st"}
    }
   }
  ]
 }
]
}
